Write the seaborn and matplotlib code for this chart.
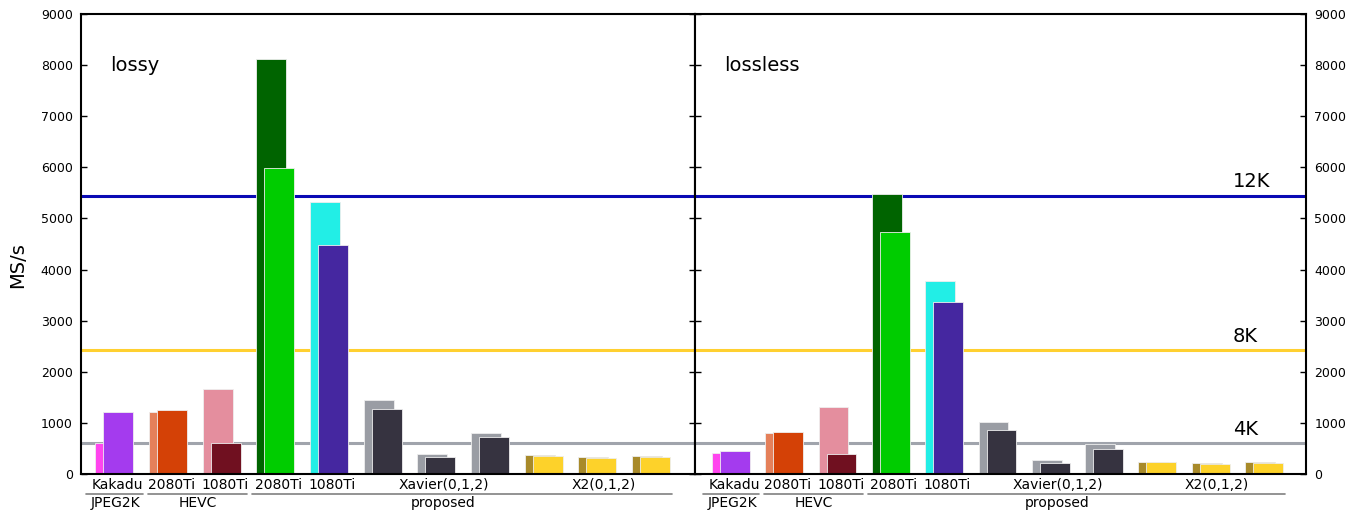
import numpy as np
import pandas as pd
import seaborn as sns
import matplotlib.pyplot as plt
from matplotlib.transforms import blended_transform_factory

# bar data, one entry per group (back bar, front bar)
groups = ["Kakadu", "2080Ti", "1080Ti", "2080Ti", "1080Ti",
          "Xavier0", "Xavier1", "Xavier2", "X2_0", "X2_1", "X2_2"]
lossy_back = [607, 1222, 1663, 8120, 5322, 1448, 391, 802, 372, 333, 352]
lossy_front = [1213, 1252, 607, 5987, 4480, 1272, 333, 724, 352, 313, 342]
lossless_back = [405, 802, 1317, 5484, 3770, 1017, 268, 581, 241, 215, 235]
lossless_front = [444, 822, 385, 4729, 3365, 854, 209, 483, 228, 202, 215]

back_colors = ["#FF44EE", "#E5805A", "#E48E9E", "#006400", "#22EEE6",
               "#9A9DA4", "#9A9DA4", "#9A9DA4", "#A88A2A", "#A88A2A", "#A88A2A"]
front_colors = ["#A43BEE", "#D44106", "#701020", "#00CC00", "#4527A0",
                "#363340", "#363340", "#363340", "#FDD22A", "#FDD22A", "#FDD22A"]

# reference resolutions
ref_values = [5440, 2420, 600]
ref_labels = ["12K", "8K", "4K"]
ref_colors = ["#0A0AB4", "#FFD030", "#A0A4AC"]

row1 = [("Kakadu", 0.06), ("2080Ti", 1.06), ("1080Ti", 2.06), ("2080Ti", 3.06),
        ("1080Ti", 4.06), ("Xavier(0,1,2)", 6.14), ("X2(0,1,2)", 9.12)]
row2 = [("JPEG2K", 0.02), ("HEVC", 1.55), ("proposed", 6.12)]
spans = [(-0.53, 0.53), (0.62, 2.48), (2.57, 10.4)]

sns.set_style("white")
plt.rcParams["font.family"] = ["DejaVu Sans"]
plt.rcParams["text.color"] = "black"
plt.rcParams["ytick.color"] = "black"
plt.rcParams["ytick.labelcolor"] = "black"

fig = plt.figure(figsize=(13.69, 5.12), dpi=100)
ax1 = fig.add_axes([81 / 1369, 0.0742, 614 / 1369, 0.8985])
ax2 = fig.add_axes([695 / 1369, 0.0742, 611 / 1369, 0.8985])

pos = np.arange(len(groups))
off = 0.075


def draw(ax, back, front, title, xlim):
    for v, c in zip(ref_values, ref_colors):
        ax.axhline(v, color=c, lw=2.2, zorder=0)
    for vals, cols, shift, tag in [(back, back_colors, -off, "b"), (front, front_colors, off, "f")]:
        df = pd.DataFrame({"x": pos + shift, "y": vals,
                           "k": [f"{tag}{i}" for i in pos]})
        sns.barplot(data=df, x="x", y="y", hue="k",
                    palette=dict(zip(df["k"], cols)), native_scale=True,
                    width=0.56, dodge=False, legend=False, errorbar=None,
                    linewidth=0.6, edgecolor="#eeeeee", saturation=1, ax=ax, zorder=2)
    ax.set_xlim(*xlim)
    ax.set_ylim(0, 9000)
    ax.set_yticks(np.arange(0, 9001, 1000))
    ax.set_xticks([])
    ax.set_xlabel("")
    ax.set_ylabel("")
    for s in ax.spines.values():
        s.set_color("black")
        s.set_linewidth(1.5)
    ax.tick_params(axis="y", direction="in", left=True, right=True,
                   length=4, width=1, labelsize=9, pad=6, colors="black")
    ax.text(0.048, 0.887, title, transform=ax.transAxes, fontsize=14, va="center")

    tr = blended_transform_factory(ax.transData, ax.transAxes)
    for lab, x in row1:
        ax.text(x, -0.023, lab, transform=tr, ha="center", va="center", fontsize=10)
    for lab, x in row2:
        ax.text(x, -0.064, lab, transform=tr, ha="center", va="center", fontsize=10)
    for a, b in spans:
        ax.plot([a, b], [-0.043, -0.043], transform=tr, color="#808080",
                lw=1.2, clip_on=False)


draw(ax1, lossy_back, lossy_front, "lossy", (-0.62, 10.82))
draw(ax2, lossless_back, lossless_front, "lossless", (-0.675, 10.79))

ax1.tick_params(axis="y", labelleft=True, labelright=False)
ax2.tick_params(axis="y", labelleft=False, labelright=True)

for v, lab in zip(ref_values, ref_labels):
    ax2.text(0.88, v + 170, lab, transform=blended_transform_factory(ax2.transAxes, ax2.transData),
             fontsize=14, va="baseline", ha="left")

fig.text(18 / 1369, 1 - 265 / 512, "MS/s", rotation=90, fontsize=14,
         ha="center", va="center")

plt.savefig("out.png", dpi=100)
